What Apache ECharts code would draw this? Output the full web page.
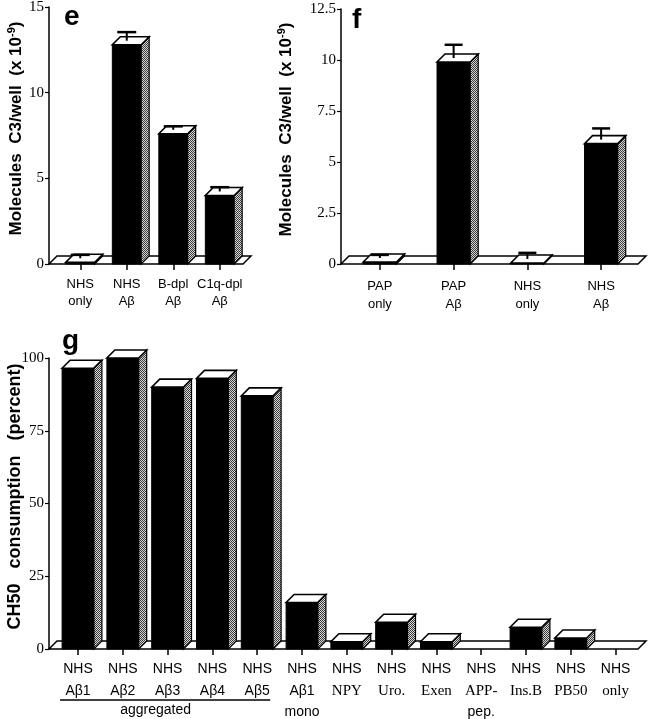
<!DOCTYPE html>
<html>
<head>
<meta charset="utf-8">
<script src="https://cdn.jsdelivr.net/npm/echarts@6/dist/echarts.min.js"></script>
<style>
  html, body { margin: 0; padding: 0; background: #ffffff; }
  #chart { width: 651px; height: 719px; }
</style>
</head>
<body>
<div id="chart"></div>
<script>
// ---------------- data ----------------
const eCategories = ['NHS\nonly', 'NHS\nAβ', 'B-dpl\nAβ', 'C1q-dpl\nAβ'];
const eValues = [0.1, 12.8, 7.6, 4.0];
const eErrors = [0.2, 0.5, 0.2, 0.25];
const eTicks = [0, 5, 10, 15];

const fCategories = ['PAP\nonly', 'PAP\nAβ', 'NHS\nonly', 'NHS\nAβ'];
const fValues = [0.1, 9.9, 0.05, 5.9];
const fErrors = [0.15, 0.65, 0.3, 0.55];
const fTicks = [0, 2.5, 5, 7.5, 10, 12.5];

const gCategories = ['NHS\nAβ1', 'NHS\nAβ2', 'NHS\nAβ3', 'NHS\nAβ4', 'NHS\nAβ5', 'NHS\nAβ1\nmono',
  'NHS\n{s|NPY}', 'NHS\n{s|Uro.}', 'NHS\n{s|Exen}', 'NHS\n{s|APP-}\npep.', 'NHS\n{s|Ins.B}', 'NHS\n{s|PB50}', 'NHS\n{s|only}'];
const gValues = [96.5, 100, 90, 93, 87, 16, 2.5, 9.2, 2.5, 0, 7.5, 3.8, 0];
const gTicks = [0, 25, 50, 75, 100];
const gGroupLabel = 'aggregated';
const gGroupRange = [0, 4];

// ---------------- style helpers ----------------
const SANS = '"Liberation Sans", Arial, Helvetica, sans-serif';
const SERIF = '"Liberation Serif", "Times New Roman", serif';
const DX = 8, DY = 8;

const pc = document.createElement('canvas');
pc.width = 2; pc.height = 2;
const pctx = pc.getContext('2d');
pctx.fillStyle = '#d6d6d6'; pctx.fillRect(0, 0, 2, 2);
pctx.fillStyle = '#3a3a3a'; pctx.fillRect(0, 0, 1, 1); pctx.fillRect(1, 1, 1, 1);
const sidePattern = { image: pc, repeat: 'repeat' };

function floorRender(offset) {
  return function (params, api) {
    const cs = params.coordSys;
    const x0 = cs.x - offset, x1 = cs.x + cs.width, yb = cs.y + cs.height;
    return {
      type: 'polygon',
      shape: { points: [[x0, yb], [x1, yb], [x1 + DX, yb - DY], [x0 + DX, yb - DY]] },
      style: { fill: '#ffffff', stroke: '#000000', lineWidth: 1.5 }
    };
  };
}

function barRender(ratio, capW) {
  return function (params, api) {
    const i = api.value(0), v = api.value(1), err = api.value(2);
    const base = api.coord([i, 0]);
    const cx = base[0], y0 = base[1];
    const yt = api.coord([i, v])[1];
    const w = api.size([1, 0])[0] * ratio;
    const xl = cx - w / 2, xr = cx + w / 2;
    const children = [];
    if (v > 0) {
      children.push({
        type: 'rect',
        shape: { x: xl, y: yt, width: w, height: y0 - yt },
        style: { fill: '#000000', stroke: '#000000', lineWidth: 1 }
      });
      children.push({
        type: 'polygon',
        shape: { points: [[xr, y0], [xr + DX, y0 - DY], [xr + DX, yt - DY], [xr, yt]] },
        style: { fill: sidePattern, stroke: '#000000', lineWidth: 1.2 }
      });
      children.push({
        type: 'polygon',
        shape: { points: [[xl, yt], [xr, yt], [xr + DX, yt - DY], [xl + DX, yt - DY]] },
        style: { fill: '#ffffff', stroke: '#000000', lineWidth: 1.6 }
      });
    }
    if (err > 0) {
      const ys = yt - DY / 2;
      const yc = api.coord([i, v + err])[1] - DY / 2;
      children.push({
        type: 'line',
        shape: { x1: cx, y1: ys, x2: cx, y2: yc },
        style: { stroke: '#000000', lineWidth: 2 }
      });
      children.push({
        type: 'line',
        shape: { x1: cx - capW / 2, y1: yc, x2: cx + capW / 2, y2: yc },
        style: { stroke: '#000000', lineWidth: 2.5 }
      });
    }
    return { type: 'group', children: children };
  };
}

function yAxisDef(gridIndex, ticks, offset, name, nameGap, nameSize, shiftUp) {
  return {
    type: 'value',
    gridIndex: gridIndex,
    min: ticks[0],
    max: ticks[ticks.length - 1],
    interval: ticks[1] - ticks[0],
    offset: offset,
    name: name,
    nameLocation: 'middle',
    nameRotate: 90,
    nameGap: nameGap,
    nameMoveOverlap: false,
    nameTextStyle: {
      fontFamily: SANS, fontWeight: 'bold', fontSize: nameSize, color: '#000',
      padding: [0, 0, 0, shiftUp * 2],
      rich: { sup: { fontFamily: SANS, fontWeight: 'bold', fontSize: 11, color: '#000', verticalAlign: 'top', padding: [0, 0, 9, 0] } }
    },
    splitLine: { show: false },
    axisLine: { show: true, lineStyle: { color: '#000', width: 1.5 } },
    axisTick: { show: true, length: 4, lineStyle: { color: '#000', width: 1.2 } },
    axisLabel: { fontFamily: SERIF, fontSize: 15, color: '#000', margin: 5 }
  };
}

function xAxisDef(gridIndex, cats, fontSize, lineHeight, margin) {
  return {
    type: 'category',
    gridIndex: gridIndex,
    data: cats,
    axisLine: { show: false },
    axisTick: { show: true, alignWithLabel: true, length: 6, lineStyle: { color: '#000', width: 1.5 } },
    axisLabel: {
      interval: 0, fontFamily: SANS, fontSize: fontSize, color: '#000', lineHeight: lineHeight, margin: margin,
      rich: { s: { fontFamily: SERIF, fontSize: fontSize + 1, color: '#000', lineHeight: lineHeight } }
    }
  };
}

function toData(values, errors) {
  return values.map((v, i) => [i, v, errors ? errors[i] : 0]);
}

const chart = echarts.init(document.getElementById('chart'), null, { renderer: 'canvas' });

const option = {
  animation: false,
  backgroundColor: '#ffffff',
  grid: [
    { left: 57, top: 7, width: 186, height: 257, containLabel: false, outerBoundsMode: 'none' },
    { left: 343, top: 9, width: 295, height: 255, containLabel: false, outerBoundsMode: 'none' },
    { left: 55.6, top: 358, width: 582.4, height: 291, containLabel: false, outerBoundsMode: 'none' }
  ],
  xAxis: [
    xAxisDef(0, eCategories, 13, 17, 12),
    xAxisDef(1, fCategories, 13, 18, 13),
    xAxisDef(2, gCategories, 14, 21.5, 9.5)
  ],
  yAxis: [
    yAxisDef(0, eTicks, 8, 'Molecules  C3/well  (x 10{sup|-9})', 23, 17, 7),
    yAxisDef(1, fTicks, 2, 'Molecules  C3/well  (x 10{sup|-9})', 45, 17, 7),
    yAxisDef(2, gTicks, 6.6, 'CH50   consumption   (percent)', 25, 18, 7)
  ],
  series: [
    { type: 'custom', xAxisIndex: 0, yAxisIndex: 0, z: 1, clip: false, data: [[0, 0]], renderItem: floorRender(8), silent: true },
    { type: 'custom', xAxisIndex: 0, yAxisIndex: 0, z: 2, clip: false, data: toData(eValues, eErrors), encode: { x: 0, y: 1 }, renderItem: barRender(0.62, 19) },
    { type: 'custom', xAxisIndex: 1, yAxisIndex: 1, z: 1, clip: false, data: [[0, 0]], renderItem: floorRender(2), silent: true },
    { type: 'custom', xAxisIndex: 1, yAxisIndex: 1, z: 2, clip: false, data: toData(fValues, fErrors), encode: { x: 0, y: 1 }, renderItem: barRender(0.45, 18) },
    { type: 'custom', xAxisIndex: 2, yAxisIndex: 2, z: 1, clip: false, data: [[0, 0]], renderItem: floorRender(6.6), silent: true },
    { type: 'custom', xAxisIndex: 2, yAxisIndex: 2, z: 2, clip: false, data: toData(gValues, null), encode: { x: 0, y: 1 }, renderItem: barRender(0.71, 16) }
  ],
  graphic: [
    { id: 'le', type: 'text', left: 64, top: 3, style: { text: 'e', font: 'bold 28px ' + SANS, fill: '#000' } },
    { id: 'lf', type: 'text', left: 352, top: 6, style: { text: 'f', font: 'bold 28px ' + SANS, fill: '#000' } },
    { id: 'lg', type: 'text', left: 62, top: 327, style: { text: 'g', font: 'bold 28px ' + SANS, fill: '#000' } }
  ]
};
chart.setOption(option);

// "aggregated" bracket under the first five categories of panel g
const xa = chart.convertToPixel({ xAxisIndex: 2 }, gGroupRange[0]);
const xb = chart.convertToPixel({ xAxisIndex: 2 }, gGroupRange[1]);
const band = (xb - xa) / (gGroupRange[1] - gGroupRange[0]);
const lx0 = xa - band * 0.4, lx1 = xb + band * 0.29;
chart.setOption({
  graphic: [
    { id: 'aggLine', type: 'line', shape: { x1: lx0, y1: 700, x2: lx1, y2: 700 }, style: { stroke: '#000', lineWidth: 1.5 } },
    { id: 'aggText', type: 'text', x: (xa + xb) / 2 - 12, y: 710,
      style: { text: gGroupLabel, font: '14px ' + SANS, fill: '#000', align: 'center', verticalAlign: 'middle' } }
  ]
});
</script>
</body>
</html>
